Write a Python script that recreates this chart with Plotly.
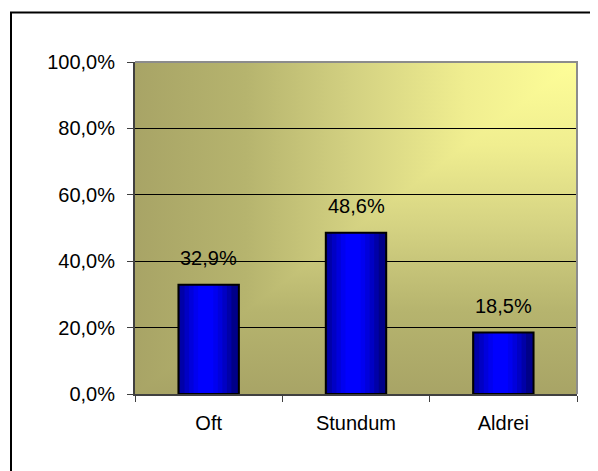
import plotly.graph_objects as go

categories = ["Oft", "Stundum", "Aldrei"]
values = [0.329, 0.486, 0.185]
y_ticks = [0.0, 0.2, 0.4, 0.6, 0.8, 1.0]

# the page puts the figure 8px in from the window corner, so the figure is 8px smaller
PAD = 8
W, H = 598 - PAD, 471 - PAD


def px(x):
    return (x - PAD) / W


def py(y):
    return 1 - (y - PAD) / H


FONT = dict(family="Liberation Sans, Arial, sans-serif", size=20, color="black")
xdom = [px(135), px(577)]
ydom = [py(394), py(62)]

# "from corner" fill: pale yellow at top right, khaki along the left and bottom edges
stops = "".join(
    f"<stop offset='{o}' stop-color='%23{c}'/>"
    for o, c in [(0, "fefe98"), (0.25, "f0ee90"), (0.5, "d4d282"), (0.75, "b6b46e"), (1, "a8a466")]
)
bg_svg = (
    "data:image/svg+xml;utf8,"
    "<svg xmlns='http://www.w3.org/2000/svg' viewBox='0 0 100 100' width='100' height='100' "
    "preserveAspectRatio='none'><defs>"
    f"<linearGradient id='v' gradientUnits='userSpaceOnUse' x1='0' y1='0' x2='0' y2='100'>{stops}</linearGradient>"
    f"<linearGradient id='h' gradientUnits='userSpaceOnUse' x1='100' y1='0' x2='0' y2='0'>{stops}</linearGradient>"
    "</defs><rect width='100' height='100' fill='url(%23v)'/>"
    "<polygon points='0,0 100,0 0,100' fill='url(%23h)'/></svg>"
)

fig = go.Figure()

# blue bars with a horizontal shading: stacked narrower bars, brighter a bit left of the middle
bar_w = 0.41
layers = [(1.0, "#000088"), (0.85, "#0000a8"), (0.7, "#0000c4"), (0.55, "#0000dc"),
          (0.4, "#0000f0"), (0.25, "#0000ff")]
for frac, col in layers:
    w = bar_w * frac
    shift = 0 if frac == 1.0 else -0.02
    fig.add_trace(go.Bar(x=categories, y=values, width=w, offset=-w / 2 + shift,
                         marker=dict(color=col, line=dict(width=0)), hoverinfo="skip"))
fig.add_trace(go.Bar(x=categories, y=values, width=bar_w, offset=-bar_w / 2,
                     marker=dict(color="rgba(0,0,0,0)", line=dict(color="black", width=2)),
                     hovertemplate="%{x}: %{y:.1%}<extra></extra>"))

for c, v in zip(categories, values):
    fig.add_annotation(x=c, y=v, text=f"{v * 100:.1f}%".replace(".", ","), showarrow=False,
                       yanchor="middle", yshift=27, font=FONT)

fig.update_layout(
    template="none",
    width=W, height=H, autosize=False,
    margin=dict(l=0, r=0, t=0, b=0, pad=0),
    paper_bgcolor="white", plot_bgcolor="rgba(0,0,0,0)",
    barmode="overlay", showlegend=False, separators=",.",
    font=FONT,
    xaxis=dict(domain=xdom, type="category", automargin=False, showgrid=False, showline=True,
               linecolor="#404040", linewidth=2, ticks="outside", tickson="boundaries", ticklen=6,
               tickcolor="#404040", tickwidth=1, ticklabelstandoff=10, tickfont=FONT),
    yaxis=dict(domain=ydom, range=[0, 1], automargin=False, tickvals=y_ticks, tickformat=".1%",
               showgrid=True, gridcolor="black", gridwidth=1, zeroline=False, showline=True,
               linecolor="#404040", linewidth=2, ticks="outside", ticklen=6, tickcolor="#404040",
               tickwidth=1, ticklabelstandoff=8, tickfont=FONT),
    images=[dict(source=bg_svg, xref="paper", yref="paper", x=xdom[0], y=ydom[1],
                 sizex=xdom[1] - xdom[0], sizey=ydom[1] - ydom[0], sizing="stretch",
                 xanchor="left", yanchor="top", layer="below")],
    shapes=[
        # grey top/right edge of the plot area
        dict(type="path", xref="paper", yref="paper", layer="above",
             path=f"M {xdom[0]} {ydom[1]} L {xdom[1]} {ydom[1]} L {xdom[1]} {ydom[0]}",
             line=dict(color="#8c8c8c", width=2)),
        # outer chart frame (only top and left fall inside the picture)
        dict(type="rect", xref="paper", yref="paper", x0=px(11), x1=1.2, y0=-0.2, y1=py(12.5),
             line=dict(color="black", width=2), layer="above"),
    ],
)

fig.write_html("out.html")
